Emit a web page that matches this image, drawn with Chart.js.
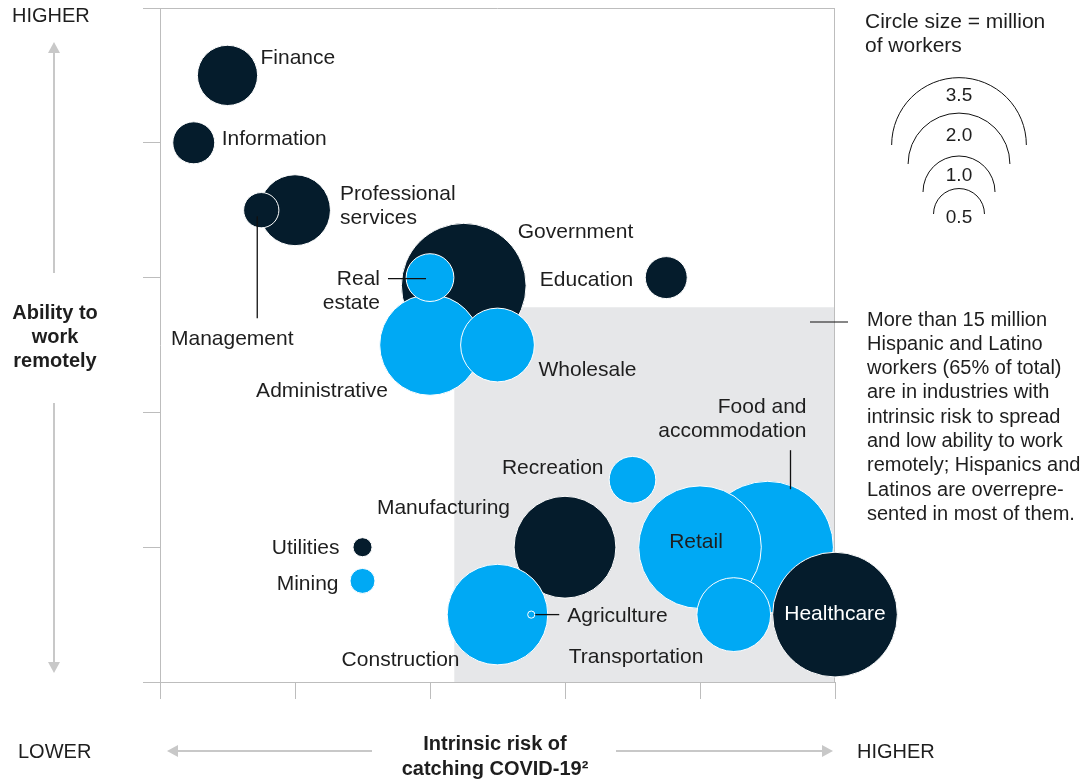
<!DOCTYPE html>
<html>
<head>
<meta charset="utf-8">
<script src="https://cdn.jsdelivr.net/npm/chart.js@4.4.1/dist/chart.umd.min.js"></script>
<style>
  html, body { margin: 0; padding: 0; background: #fff; }
  #wrap { width: 1089px; height: 780px; }
</style>
</head>
<body>
<div id="wrap"><canvas id="risk" width="1089" height="780"></canvas></div>
<script>
// industries in drawing order (later ones sit on top)
const industries = ["Government", "Professional services", "Finance", "Information", "Education",
  "Administrative", "Wholesale", "Real estate", "Management", "Manufacturing", "Construction",
  "Agriculture", "Food and accommodation", "Retail", "Transportation", "Healthcare",
  "Recreation", "Utilities", "Mining"];
const riskX   = [2.25, 1.0, 0.5, 0.25, 3.75, 2.0, 2.5, 2.0, 0.75, 3.0, 2.5, 2.75, 4.5, 4.0, 4.25, 5.0, 3.5, 1.5, 1.5];
const remoteY = [2.94, 3.5, 4.5, 4.0, 3.0, 2.5, 2.5, 3.0, 3.5, 1.0, 0.5, 0.5, 1.0, 1.0, 0.5, 0.5, 1.5, 1.0, 0.75];
const workers = [3.0, 0.97, 0.7, 0.34, 0.34, 1.95, 1.05, 0.44, 0.24, 2.0, 1.95, 0.01, 3.35, 2.9, 1.05, 3.0, 0.42, 0.07, 0.12];
const overrep = [0, 0, 0, 0, 0, 1, 1, 1, 0, 0, 1, 1, 1, 1, 1, 0, 1, 0, 1];
const xTicks = [0, 1, 2, 3, 4, 5];
const yTicks = [0, 1, 2, 3, 4, 5];
const legendSizes = [3.5, 2.0, 1.0, 0.5];
const shadeFrom = { x: 2.18, y: 2.78 };   // high risk / low remote zone

const note = ["More than 15 million", "Hispanic and Latino", "workers (65% of total)",
  "are in industries with", "intrinsic risk to spread", "and low ability to work",
  "remotely; Hispanics and", "Latinos are overrepre-", "sented in most of them."];

const NAVY = "#051c2c", BLUE = "#00a9f4", INK = "#1e1e1e", AXIS = "#bdbdbd", ARROW = "#c8c8c8";
const K = 36; // px radius per sqrt(million workers)
const FONT = "'Liberation Sans', Arial, sans-serif";

// label placement relative to the bubble centre
const labelPos = {
  "Finance": { dx: 33, dy: -19, align: "left" },
  "Information": { dx: 28, dy: -6, align: "left" },
  "Professional services": { dx: 45, dy: -18, align: "left", lines: ["Professional", "services"] },
  "Management": { dx: -29, dy: 127, align: "center", lead: [[-4, 6], [-4, 108]] },
  "Government": { dx: 54, dy: -55, align: "left" },
  "Real estate": { dx: -50, dy: 0, align: "right", lines: ["Real", "estate"], lead: [[-42, 1], [-4, 1]] },
  "Administrative": { dx: -42, dy: 44, align: "right" },
  "Wholesale": { dx: 41, dy: 23, align: "left" },
  "Education": { dx: -33, dy: 1, align: "right" },
  "Recreation": { dx: -29, dy: -14, align: "right" },
  "Manufacturing": { dx: -55, dy: -41, align: "right" },
  "Construction": { dx: -38, dy: 44, align: "right" },
  "Agriculture": { dx: 36, dy: 0, align: "left", lead: [[4, 0], [28, 0]] },
  "Food and accommodation": { dx: 39, dy: -142, align: "right", lines: ["Food and", "accommodation"], lead: [[23, -97], [23, -58]] },
  "Retail": { dx: -4, dy: -7, align: "center" },
  "Transportation": { dx: -165, dy: 41, align: "left" },
  "Healthcare": { dx: 0, dy: -2, align: "center", color: "#ffffff" },
  "Utilities": { dx: -23, dy: -1, align: "right" },
  "Mining": { dx: -24, dy: 1, align: "right" }
};

const points = industries.map((n, i) => ({ x: riskX[i], y: remoteY[i], r: K * Math.sqrt(workers[i]) }));

function arrowHead(ctx, x, y, dir) {
  ctx.beginPath();
  if (dir === "up") { ctx.moveTo(x, y); ctx.lineTo(x - 6, y + 11); ctx.lineTo(x + 6, y + 11); }
  if (dir === "down") { ctx.moveTo(x, y); ctx.lineTo(x - 6, y - 11); ctx.lineTo(x + 6, y - 11); }
  if (dir === "left") { ctx.moveTo(x, y); ctx.lineTo(x + 11, y - 6); ctx.lineTo(x + 11, y + 6); }
  if (dir === "right") { ctx.moveTo(x, y); ctx.lineTo(x - 11, y - 6); ctx.lineTo(x - 11, y + 6); }
  ctx.closePath();
  ctx.fill();
}

function line(ctx, x1, y1, x2, y2) {
  ctx.beginPath(); ctx.moveTo(x1, y1); ctx.lineTo(x2, y2); ctx.stroke();
}

const decor = {
  id: "decor",
  beforeDraw(chart) {
    const { ctx, scales: { x, y } } = chart;
    ctx.save();
    ctx.fillStyle = "#e6e7e9";
    const l = x.getPixelForValue(shadeFrom.x), t = y.getPixelForValue(shadeFrom.y);
    ctx.fillRect(l, t, x.getPixelForValue(5) - l, y.getPixelForValue(0) - t);
    ctx.restore();
  },
  beforeDatasetsDraw(chart) {
    const { ctx, chartArea: a } = chart;
    ctx.save();
    ctx.strokeStyle = AXIS; ctx.lineWidth = 1;
    line(ctx, a.left, a.top + 0.5, a.right, a.top + 0.5);
    line(ctx, a.right - 0.5, a.top, a.right - 0.5, a.bottom);
    ctx.restore();
  },
  afterDatasetsDraw(chart) {
    const { ctx } = chart;
    const meta = chart.getDatasetMeta(0);
    ctx.save();
    ctx.font = "21px " + FONT;
    ctx.textBaseline = "middle";
    industries.forEach((name, i) => {
      const p = labelPos[name], el = meta.data[i];
      const lines = p.lines || [name];
      ctx.fillStyle = p.color || INK;
      ctx.textAlign = p.align;
      lines.forEach((s, k) => ctx.fillText(s, el.x + p.dx, el.y + p.dy + 2 + k * 24));
      if (p.lead) {
        ctx.strokeStyle = "#111"; ctx.lineWidth = 1.3;
        line(ctx, el.x + p.lead[0][0], el.y + p.lead[0][1], el.x + p.lead[1][0], el.y + p.lead[1][1]);
      }
    });
    ctx.restore();
  },
  afterDraw(chart) {
    const { ctx } = chart;
    ctx.save();
    ctx.fillStyle = INK;
    ctx.textBaseline = "middle";
    ctx.font = "20px " + FONT;

    // corner words
    ctx.textAlign = "left";
    ctx.fillText("HIGHER", 12, 16);
    ctx.fillText("LOWER", 18, 752);
    ctx.fillText("HIGHER", 857, 752);

    // annotation
    note.forEach((s, k) => ctx.fillText(s, 867, 320 + k * 24.3));
    ctx.strokeStyle = "#111"; ctx.lineWidth = 1.2;
    line(ctx, 810, 322, 848, 322);

    // size legend
    ctx.font = "21px " + FONT;
    ctx.fillText("Circle size = million", 865, 22);
    ctx.fillText("of workers", 865, 46);
    const cy = [145, 164, 192, 214];
    const ty = [96, 136, 176, 218];
    ctx.strokeStyle = "#111"; ctx.lineWidth = 1;
    ctx.textAlign = "center";
    ctx.font = "19px " + FONT;
    legendSizes.forEach((v, k) => {
      ctx.beginPath();
      ctx.arc(959, cy[k], K * Math.sqrt(v), Math.PI, 2 * Math.PI);
      ctx.stroke();
      ctx.fillText(v.toFixed(1), 959, ty[k]);
    });

    // axis titles
    ctx.font = "bold 20px " + FONT;
    ["Ability to", "work", "remotely"].forEach((s, k) => ctx.fillText(s, 55, 313 + k * 24));
    ctx.fillText("Intrinsic risk of", 495, 744);
    ctx.fillText("catching COVID-19\u00b2", 495, 769);

    // arrows
    ctx.strokeStyle = ARROW; ctx.fillStyle = ARROW; ctx.lineWidth = 2;
    line(ctx, 54, 50, 54, 273); arrowHead(ctx, 54, 42, "up");
    line(ctx, 54, 403, 54, 664); arrowHead(ctx, 54, 673, "down");
    line(ctx, 176, 751, 372, 751); arrowHead(ctx, 167, 751, "left");
    line(ctx, 616, 751, 824, 751); arrowHead(ctx, 833, 751, "right");
    ctx.restore();
  }
};

Chart.defaults.font.family = FONT;

new Chart(document.getElementById("risk"), {
  type: "bubble",
  data: {
    datasets: [{
      label: "Industries",
      data: points,
      backgroundColor: overrep.map(o => o ? BLUE : NAVY),
      borderColor: "#ffffff",
      borderWidth: 1,
      clip: false
    }]
  },
  options: {
    responsive: false,
    animation: false,
    events: [],
    devicePixelRatio: 1,
    layout: { autoPadding: false, padding: { left: 143, right: 254, top: 8, bottom: 81 } },
    plugins: { legend: { display: false }, tooltip: { enabled: false } },
    scales: {
      x: {
        type: "linear", min: 0, max: 5,
        afterBuildTicks: s => { s.ticks = xTicks.map(v => ({ value: v })); },
        ticks: { display: false },
        grid: { drawOnChartArea: false, tickLength: 17, color: AXIS },
        border: { color: AXIS }
      },
      y: {
        type: "linear", min: 0, max: 5,
        afterBuildTicks: s => { s.ticks = yTicks.map(v => ({ value: v })); },
        ticks: { display: false },
        grid: { drawOnChartArea: false, tickLength: 17, color: AXIS },
        border: { color: AXIS }
      }
    }
  },
  plugins: [decor]
});
</script>
</body>
</html>
